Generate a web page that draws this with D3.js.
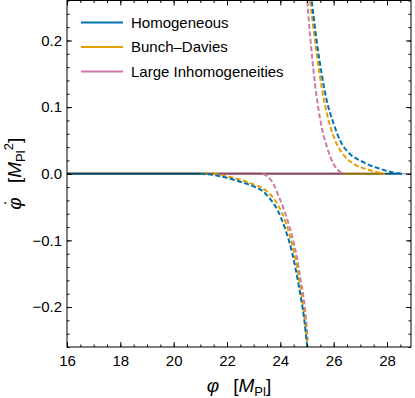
<!DOCTYPE html>
<html>
<head>
<meta charset="utf-8">
<script src="https://cdn.jsdelivr.net/npm/d3@7"></script>
<style>
  body { margin: 0; background: #fff; }
  svg { display: block; font-family: "Liberation Sans", Arial, sans-serif; }
</style>
</head>
<body>
<div id="wrapper"></div>
<script>
// series names + colours
const seriesNames = ["Homogeneous", "Bunch\u2013Davies", "Large Inhomogeneities"] ;
const seriesColors = ["#0072B2", "#E69F00", "#CC79A7"] ;

// where each trajectory leaves phi-dot = 0 (negative branch) and lands back (positive branch)
const departPhi = [21.0, 21.5, 23.35] ;
const landPhi = [28.55, 27.92, 26.36] ;

// negative branches (phi, phi-dot)
const homNegPhi = [21.0, 21.5, 22.0, 22.5, 23.0, 23.3, 23.6, 23.9, 24.2, 24.45, 24.7, 24.9, 25.02] ;
const homNegVal = [0, -0.002, -0.006, -0.012, -0.019, -0.025, -0.037, -0.055, -0.085, -0.12, -0.17, -0.22, -0.265] ;
const bdNegPhi = [21.5, 22.0, 22.5, 23.0, 23.3, 23.6, 23.9, 24.2, 24.45, 24.7, 24.9, 25.02] ;
const bdNegVal = [0, -0.004, -0.009, -0.016, -0.021, -0.03, -0.046, -0.073, -0.107, -0.157, -0.213, -0.26] ;
const liNegPhi = [23.35, 23.55, 23.75, 23.95, 24.1, 24.3, 24.48, 24.62, 24.74, 24.85, 24.93, 25.03] ;
const liNegVal = [0, -0.005, -0.016, -0.035, -0.05, -0.074, -0.1, -0.125, -0.155, -0.18, -0.205, -0.25] ;

// positive branches
const homPosPhi = [25.15, 25.36, 25.55, 25.74, 26.0, 26.24, 26.6, 26.99, 27.4, 27.74, 28.1, 28.55] ;
const homPosVal = [0.27, 0.2, 0.15, 0.11, 0.075, 0.05, 0.03, 0.02, 0.012, 0.0075, 0.003, 0] ;
const bdPosPhi = [25.08, 25.3, 25.47, 25.64, 25.88, 26.11, 26.4, 26.74, 27.3, 27.92] ;
const bdPosVal = [0.27, 0.2, 0.15, 0.11, 0.07, 0.045, 0.027, 0.015, 0.006, 0] ;
const liPosPhi = [24.99, 25.11, 25.3, 25.55, 25.75, 25.99, 26.15, 26.36] ;
const liPosVal = [0.27, 0.21, 0.135, 0.07, 0.04, 0.015, 0.006, 0] ;

const xTicks = [16, 18, 20, 22, 24, 26, 28] ;
const yTicks = [-0.2, -0.1, 0.0, 0.1, 0.2] ;

const zip = (xs, ys) => xs.map((x, i) => [x, ys[i]]) ;
const branches = [
  [zip(homNegPhi, homNegVal), zip(homPosPhi, homPosVal)],
  [zip(bdNegPhi, bdNegVal), zip(bdPosPhi, bdPosVal)],
  [zip(liNegPhi, liNegVal), zip(liPosPhi, liPosVal)]
] ;

let dimensions = {
  width: 415,
  height: 398,
  margin: { top: 0.5, right: 4, bottom: 51, left: 67 }
} ;
dimensions.boundedWidth = dimensions.width - dimensions.margin.left - dimensions.margin.right ;
dimensions.boundedHeight = dimensions.height - dimensions.margin.top - dimensions.margin.bottom ;

const svg = d3.select("#wrapper").append("svg")
    .attr("width", dimensions.width)
    .attr("height", dimensions.height) ;

const bounds = svg.append("g")
    .attr("transform", `translate(${dimensions.margin.left}, ${dimensions.margin.top})`) ;

const xScale = d3.scaleLinear()
  .domain([16, 28.9])
  .range([0, dimensions.boundedWidth]) ;
const yScale = d3.scaleLinear()
  .domain([-0.26, 0.26])
  .range([dimensions.boundedHeight, 0]) ;

bounds.append("clipPath").attr("id", "clip")
  .append("rect")
    .attr("width", dimensions.boundedWidth)
    .attr("height", dimensions.boundedHeight) ;

const plot = bounds.append("g").attr("clip-path", "url(#clip)") ;

// zero segments: long part first (blue, orange, pink), then the early part on top (pink, orange, blue)
seriesColors.forEach((c, i) => {
  plot.append("line")
    .attr("x1", xScale(16)).attr("x2", xScale(landPhi[i]))
    .attr("y1", yScale(0)).attr("y2", yScale(0))
    .attr("stroke", c).attr("stroke-width", 2) ;
}) ;
[2, 1, 0].forEach((i) => {
  plot.append("line")
    .attr("x1", xScale(16)).attr("x2", xScale(departPhi[i]))
    .attr("y1", yScale(0)).attr("y2", yScale(0))
    .attr("stroke", seriesColors[i]).attr("stroke-width", 2) ;
}) ;
plot.append("line")
  .attr("x1", 0).attr("x2", dimensions.boundedWidth)
  .attr("y1", yScale(0)).attr("y2", yScale(0))
  .attr("stroke", "#000").attr("stroke-opacity", 0.5).attr("stroke-width", 1.2) ;

const lineGen = d3.line()
  .x((d) => xScale(d[0]))
  .y((d) => yScale(d[1]))
  .curve(d3.curveMonotoneX) ;

// pink under, blue on top at the steep bottom
[2, 1, 0].forEach((i) => {
  branches[i].forEach((b) => {
    plot.append("path")
      .attr("d", lineGen(b))
      .attr("fill", "none")
      .attr("stroke", seriesColors[i])
      .attr("stroke-width", 2)
      .attr("stroke-dasharray", "5,2.5") ;
  }) ;
}) ;

// frame ticks, inward on all four sides
const xMinor = d3.range(16, 28.9, 0.5) ;
const yMinor = d3.range(-0.26, 0.261, 0.02).map((d) => Math.round(d * 100) / 100) ;
const fmtY = d3.format(".1f") ;

function addAxis(gen, ticks, size, fmt, transform) {
  const g = bounds.append("g")
    .attr("transform", transform)
    .call(gen.tickValues(ticks).tickSize(size).tickFormat(fmt)) ;
  g.select(".domain").remove() ;
  g.selectAll("text").attr("fill", "#000").style("font-size", "15px") ;
  g.selectAll("line").attr("stroke", "#000") ;
  return g ;
}
const bottomT = `translate(0, ${dimensions.boundedHeight})` ;
const rightT = `translate(${dimensions.boundedWidth}, 0)` ;
addAxis(d3.axisBottom(xScale).tickPadding(8), xTicks, -5, d3.format("d"), bottomT) ;
addAxis(d3.axisBottom(xScale), xMinor, -2.5, "", bottomT) ;
addAxis(d3.axisTop(xScale), xTicks, -5, "", "") ;
addAxis(d3.axisTop(xScale), xMinor, -2.5, "", "") ;
addAxis(d3.axisLeft(yScale).tickPadding(5), yTicks, -5, fmtY, "") ;
addAxis(d3.axisLeft(yScale), yMinor, -2.5, "", "") ;
addAxis(d3.axisRight(yScale), yTicks, -5, "", rightT) ;
addAxis(d3.axisRight(yScale), yMinor, -2.5, "", rightT) ;

bounds.append("rect")
  .attr("width", dimensions.boundedWidth)
  .attr("height", dimensions.boundedHeight)
  .attr("fill", "none")
  .attr("stroke", "#000")
  .attr("stroke-width", 1) ;

// legend
const legend = bounds.append("g").attr("transform", "translate(14, 22)") ;
seriesNames.forEach((name, i) => {
  const y = i * 24.5 ;
  legend.append("line")
    .attr("x1", 0).attr("x2", 42)
    .attr("y1", y).attr("y2", y)
    .attr("stroke", seriesColors[i]).attr("stroke-width", 2) ;
  legend.append("text")
    .attr("x", 50).attr("y", y).attr("dy", "0.35em")
    .style("font-size", "15px")
    .text(name) ;
}) ;

// axis titles
const xTitle = svg.append("text")
  .attr("x", dimensions.margin.left + dimensions.boundedWidth / 2)
  .attr("y", 392)
  .attr("text-anchor", "middle")
  .style("font-size", "19px") ;
xTitle.append("tspan").style("font-style", "italic").text("\u03C6") ;
xTitle.append("tspan").attr("dx", 14).text("[") ;
xTitle.append("tspan").style("font-style", "italic").text("M") ;
xTitle.append("tspan").attr("dy", 4).style("font-size", "13px").text("Pl") ;
xTitle.append("tspan").attr("dy", -4).text("]") ;

const yTitle = svg.append("text")
  .attr("transform", `translate(21, ${dimensions.margin.top + dimensions.boundedHeight / 2}) rotate(-90)`)
  .attr("text-anchor", "middle")
  .style("font-size", "19px") ;
yTitle.append("tspan").style("font-style", "italic").text("\u03C6") ;
yTitle.append("tspan").attr("dx", -8).attr("dy", -3).text("\u02D9") ;
yTitle.append("tspan").attr("dx", 16).attr("dy", 3).text("[") ;
yTitle.append("tspan").style("font-style", "italic").text("M") ;
yTitle.append("tspan").attr("dy", 4).style("font-size", "13px").text("Pl") ;
yTitle.append("tspan").attr("dy", -12).style("font-size", "13px").text("2") ;
yTitle.append("tspan").attr("dy", 8).text("]") ;
</script>
</body>
</html>
